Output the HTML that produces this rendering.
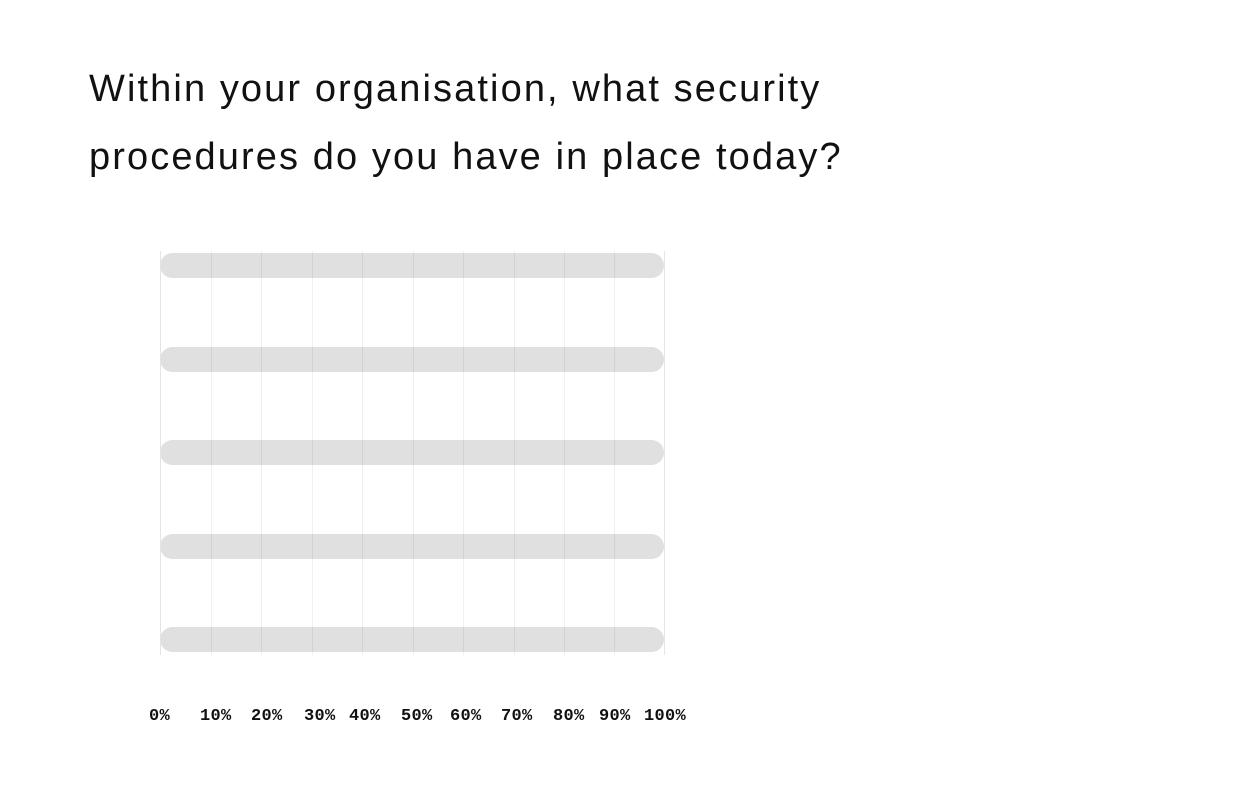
<!DOCTYPE html>
<html><head><style>
html,body{margin:0;padding:0;background:#fff;}
body{width:1248px;height:800px;position:relative;overflow:hidden;}
.t{position:absolute;left:89px;font-family:"Liberation Sans",sans-serif;font-size:38px;color:#111;white-space:nowrap;letter-spacing:2.1px;}
.g{position:absolute;top:251px;height:404px;width:1px;background:rgba(0,0,0,0.06);}
.b{position:absolute;left:160px;width:504px;height:25px;border-radius:12.5px;background:#e0e0e0;}
.l{position:absolute;top:707px;font-family:"Liberation Mono",monospace;font-weight:bold;font-size:17px;letter-spacing:0.3px;color:#111;}
</style></head><body>
<div class="t" style="top:68px">Within your organisation, what security</div>
<div class="t" style="top:136px">procedures do you have in place today?</div>
<div class="b" style="top:253px"></div>
<div class="b" style="top:347px"></div>
<div class="b" style="top:440px"></div>
<div class="b" style="top:534px"></div>
<div class="b" style="top:627px"></div>
<div class="g" style="left:160px;background:#e4e4e4"></div>
<div class="g" style="left:211px"></div>
<div class="g" style="left:261px"></div>
<div class="g" style="left:312px"></div>
<div class="g" style="left:362px"></div>
<div class="g" style="left:413px"></div>
<div class="g" style="left:463px"></div>
<div class="g" style="left:514px"></div>
<div class="g" style="left:564px"></div>
<div class="g" style="left:614px"></div>
<div class="g" style="left:664px;background:#e4e4e4"></div>
<div class="l" style="left:149px">0%</div>
<div class="l" style="left:200px">10%</div>
<div class="l" style="left:251px">20%</div>
<div class="l" style="left:304px">30%</div>
<div class="l" style="left:349px">40%</div>
<div class="l" style="left:401px">50%</div>
<div class="l" style="left:450px">60%</div>
<div class="l" style="left:501px">70%</div>
<div class="l" style="left:553px">80%</div>
<div class="l" style="left:599px">90%</div>
<div class="l" style="left:644px">100%</div>
</body></html>
